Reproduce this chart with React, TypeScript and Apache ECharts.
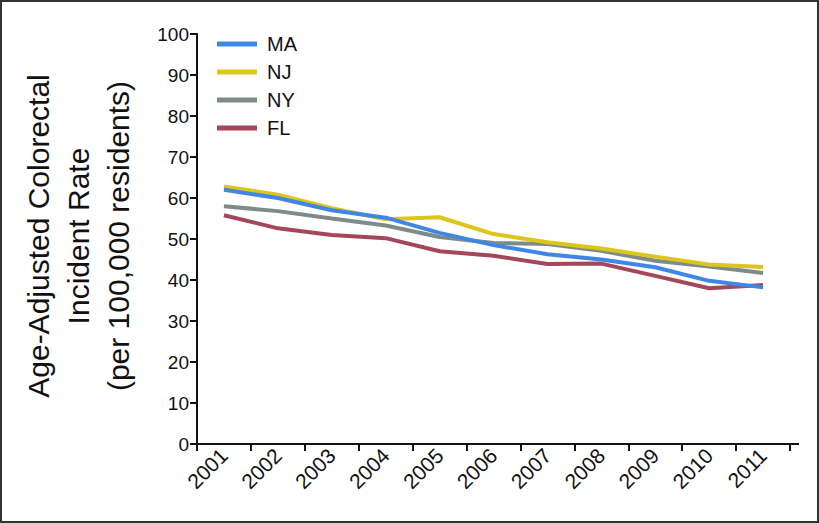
import React, { useEffect, useRef } from "react";
import * as echarts from "echarts";

const years = ["2001", "2002", "2003", "2004", "2005", "2006", "2007", "2008", "2009", "2010", "2011"];
const MA = [62.0, 60.0, 57.0, 55.2, 51.5, 48.5, 46.3, 45.0, 43.1, 39.8, 38.2];
const NJ = [62.8, 60.8, 57.5, 54.8, 55.3, 51.2, 49.2, 47.7, 45.7, 43.8, 43.2];
const NY = [58.0, 56.8, 55.0, 53.3, 50.5, 49.0, 48.8, 47.1, 44.7, 43.3, 41.7];
const FL = [55.8, 52.6, 51.0, 50.2, 47.0, 45.9, 43.9, 44.0, 41.0, 38.0, 38.8];
const seriesNames = ["MA", "NJ", "NY", "FL"];
const colors = ["#3f86e6", "#dcc61a", "#7e8c89", "#a5475a"];
const yTitle = ["Age-Adjusted Colorectal", "Incident Rate", "(per 100,000 residents)"];

const FONT = "'Liberation Sans', Arial, Helvetica, sans-serif";

export default function App() {
  const ref = useRef<HTMLDivElement>(null);
  useEffect(() => {
    if (!ref.current) return;
    const chart = echarts.init(ref.current, null, { renderer: "svg" });
    const data = [MA, NJ, NY, FL];
    chart.setOption({
      animation: false,
      backgroundColor: "#ffffff",
      textStyle: { fontFamily: FONT },
      grid: { left: 197, right: 29, top: 34, bottom: 79, containLabel: false },
      legend: {
        orient: "vertical",
        left: 217,
        top: 34,
        padding: 0,
        icon: "rect",
        itemWidth: 40,
        itemHeight: 5,
        itemGap: 8,
        data: seriesNames,
        textStyle: { fontSize: 20, color: "#111", lineHeight: 20, padding: [0, 0, 0, 5], fontFamily: FONT },
      },
      xAxis: {
        type: "category",
        data: years,
        boundaryGap: true,
        axisLine: { lineStyle: { color: "#111", width: 2 } },
        axisTick: { show: true, length: 7, lineStyle: { color: "#111", width: 2 } },
        axisLabel: { rotate: 45, fontSize: 21, color: "#111", margin: 8, interval: 0, fontFamily: FONT },
        splitLine: { show: false },
      },
      yAxis: {
        type: "value",
        min: 0,
        max: 100,
        interval: 10,
        axisLine: { show: true, lineStyle: { color: "#111", width: 2 } },
        axisTick: { show: true, length: 7, lineStyle: { color: "#111", width: 2 } },
        axisLabel: { fontSize: 19, color: "#111", margin: 8, fontFamily: FONT },
        splitLine: { show: false },
      },
      series: seriesNames.map((n, i) => ({
        name: n,
        type: "line",
        data: data[i],
        symbol: "none",
        lineStyle: { width: 4, color: colors[i] },
        itemStyle: { color: colors[i] },
        z: 10 - i,
      })),
      graphic: [
        {
          type: "rect",
          shape: { x: 1, y: 1, width: 817, height: 521 },
          style: { fill: "none", stroke: "#333", lineWidth: 2 },
          silent: true,
        },
        {
          type: "line",
          shape: { x1: 790, y1: 444, x2: 799, y2: 444 },
          style: { stroke: "#111", lineWidth: 2 },
        },
        {
          type: "text",
          x: 78,
          y: 236,
          rotation: Math.PI / 2,
          style: {
            text: yTitle.join("\n"),
            fontSize: 30,
            lineHeight: 40,
            fontFamily: FONT,
            fill: "#111",
            align: "center",
            verticalAlign: "middle",
          },
        },
      ],
    });
    return () => chart.dispose();
  }, []);
  return (
    <div style={{ position: "fixed", left: 0, top: 0, width: 819, height: 523 }}>
      <div ref={ref} style={{ width: 819, height: 523 }} />
    </div>
  );
}
